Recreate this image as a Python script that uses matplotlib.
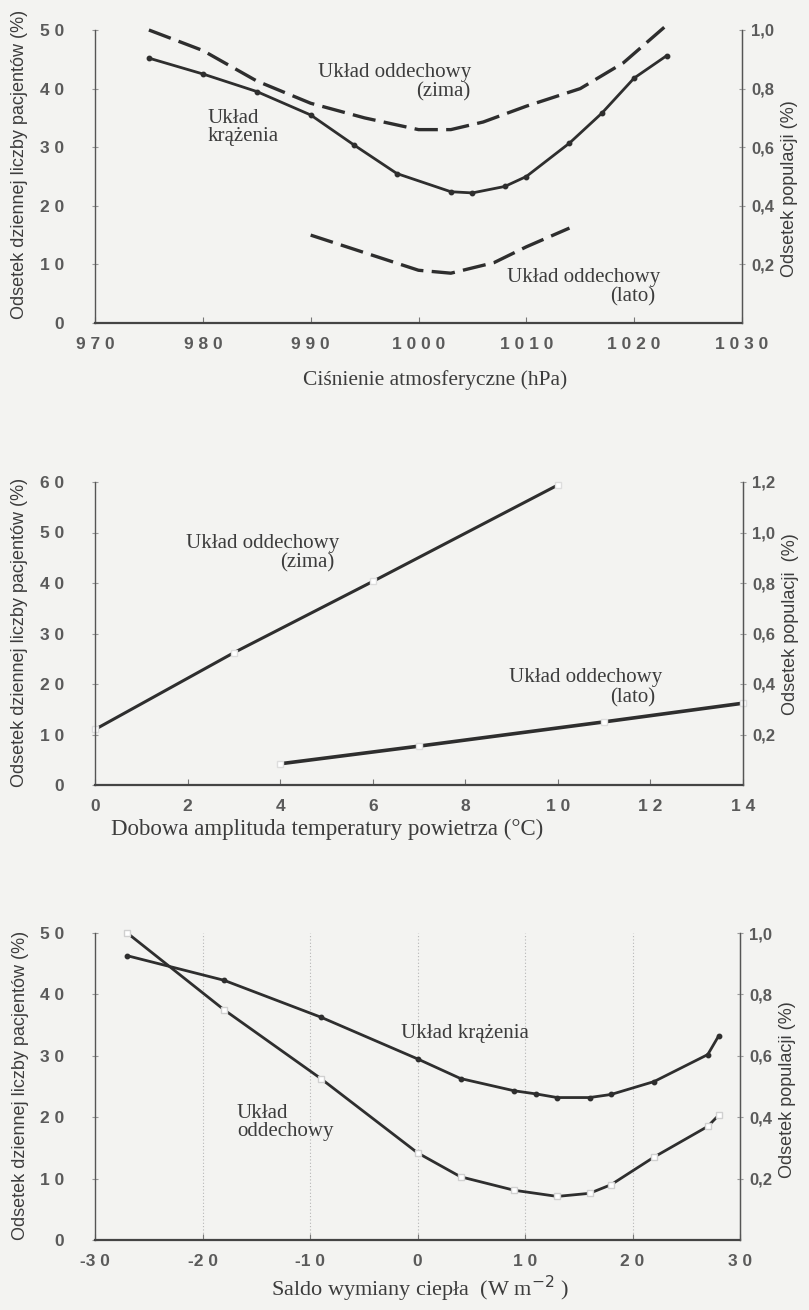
import numpy as np
import matplotlib
matplotlib.use('Agg')
import matplotlib.pyplot as plt

# panel 1: pressure
p_x_krazenia = [975, 980, 985, 990, 994, 998, 1003, 1005, 1008, 1010, 1014, 1017, 1020, 1023]
p_y_krazenia = [45.2, 42.5, 39.5, 35.5, 30.4, 25.5, 22.4, 22.2, 23.3, 25.0, 30.7, 35.8, 41.8, 45.6]
p_x_zima = [975, 980, 985, 990, 995, 1000, 1003, 1006, 1010, 1015, 1019, 1023]
p_y_zima = [50.0, 46.5, 41.3, 37.5, 35.0, 33.0, 33.0, 34.3, 37.0, 40.0, 44.4, 50.8]
p_x_lato = [990, 995, 1000, 1003, 1007, 1010, 1014]
p_y_lato = [15.0, 12.0, 9.0, 8.5, 10.3, 13.0, 16.2]

# panel 2: daily temperature amplitude
t_x_zima = [0, 3, 6, 10]
t_y_zima = [11.0, 26.2, 40.3, 59.4]
t_x_lato = [4, 7, 11, 14]
t_y_lato = [4.2, 7.7, 12.5, 16.2]

# panel 3: heat exchange balance
h_x_krazenia = [-27, -18, -9, 0, 4, 9, 11, 13, 16, 18, 22, 27, 28]
h_y_krazenia = [46.3, 42.3, 36.3, 29.5, 26.3, 24.3, 23.8, 23.2, 23.2, 23.7, 25.8, 30.2, 33.2]
h_x_oddech = [-27, -18, -9, 0, 4, 9, 13, 16, 18, 22, 27, 28]
h_y_oddech = [50.0, 37.5, 26.3, 14.2, 10.3, 8.1, 7.1, 7.6, 9.0, 13.5, 18.5, 20.3]

ylabel_left = 'Odsetek dziennej liczby pacjentów (%)'
ylabel_right = 'Odsetek populacji (%)'

bg = '#f3f3f1'
ink = '#2e2e2e'
txt = '#3c3c3c'
serif = ['Liberation Serif', 'DejaVu Serif']
sans = ['Liberation Sans', 'DejaVu Sans']
ann = 15


def spaced(v):
    s = str(abs(int(v)))
    out = ' '.join(s)
    return ('-' if v < 0 else '') + out


def setup(ax, xlim, xticks, ymax, rmax, rticks):
    ax.set_facecolor(bg)
    ax.set_xlim(*xlim)
    ax.set_ylim(0, ymax)
    ax.spines['top'].set_visible(False)
    for s in ['left', 'right']:
        ax.spines[s].set_color('#555555')
        ax.spines[s].set_linewidth(1.0)
    ax.spines['bottom'].set_color('#444444')
    ax.spines['bottom'].set_linewidth(1.6)
    ax.set_xticks(xticks)
    ax.set_xticklabels([spaced(v) for v in xticks], family=sans, fontsize=12.5,
                       color='#5a5a5a', fontweight='bold')
    yt = list(range(0, ymax + 1, 10))
    ax.set_yticks(yt)
    ax.set_yticklabels([spaced(v) for v in yt], family=sans, fontsize=12.5,
                       color='#5a5a5a', fontweight='bold')
    ax.tick_params(axis='x', direction='in', length=4, color='#777777', pad=10)
    ax.tick_params(axis='y', direction='inout', length=5, color='#999999', pad=20)
    ax.set_ylabel(ylabel_left, family=sans, fontsize=13, color=txt)
    ax2 = ax.twinx()
    ax2.set_ylim(0, rmax)
    ax2.set_yticks(rticks)
    ax2.set_yticklabels([('%.1f' % v).replace('.', ',') for v in rticks], family=sans,
                        fontsize=12, color='#5a5a5a', fontweight='bold')
    ax2.tick_params(axis='y', direction='inout', length=5, color='#999999', pad=4)
    for s in ['top', 'left', 'bottom']:
        ax2.spines[s].set_visible(False)
    ax2.spines['right'].set_color('#555555')
    return ax2


fig = plt.figure(figsize=(8.09, 13.10), dpi=100)
fig.patch.set_facecolor(bg)

W = 809.0
H = 1310.0

# ---------- panel 1 ----------
ax1 = fig.add_axes([95 / W, 1 - 323 / H, 647 / W, 293 / H])
r1 = setup(ax1, (970, 1030), list(range(970, 1031, 10)), 50, 1.0, [0.2, 0.4, 0.6, 0.8, 1.0])
ax1.plot(p_x_krazenia, p_y_krazenia, color=ink, lw=2.0, marker='o', ms=3.2, clip_on=False)
ax1.plot(p_x_zima, p_y_zima, color=ink, lw=2.4, dashes=(7, 2.5), clip_on=False)
ax1.plot(p_x_lato, p_y_lato, color=ink, lw=2.4, dashes=(7, 2.5), clip_on=False)
ax1.text(997.8, 42.8, 'Układ oddechowy', family=serif, fontsize=ann, color=txt, ha='center', va='center')
ax1.text(1004.8, 39.4, '(zima)', family=serif, fontsize=ann, color=txt, ha='right', va='center')
ax1.text(980.4, 33.4, 'Układ\nkrążenia', family=serif, fontsize=ann, color=txt, ha='left', va='center',
         linespacing=0.95)
ax1.text(1015.3, 7.8, 'Układ oddechowy', family=serif, fontsize=ann, color=txt, ha='center', va='center')
ax1.text(1022, 4.4, '(lato)', family=serif, fontsize=ann, color=txt, ha='right', va='center')
ax1.set_xlabel('Ciśnienie atmosferyczne (hPa)', family=serif, fontsize=15.5, color=txt)
ax1.xaxis.set_label_coords(0.525, -0.16)
ax1.yaxis.set_label_coords(-0.103, 0.54)
r1.set_ylabel(ylabel_right, family=sans, fontsize=13, color=txt)
r1.yaxis.set_label_coords(1.06, 0.46)

# ---------- panel 2 ----------
ax2 = fig.add_axes([95 / W, 1 - 785 / H, 648 / W, 303 / H])
r2 = setup(ax2, (0, 14), list(range(0, 15, 2)), 60, 1.2, [0.2, 0.4, 0.6, 0.8, 1.0, 1.2])
ax2.plot(t_x_zima, t_y_zima, color=ink, lw=2.2, marker='s', ms=4, mfc='white', mec='#dddddd',
         clip_on=False)
ax2.plot(t_x_lato, t_y_lato, color=ink, lw=2.6, marker='s', ms=4, mfc='white', mec='#dddddd',
         clip_on=False)
ax2.text(3.63, 47.9, 'Układ oddechowy', family=serif, fontsize=ann, color=txt, ha='center', va='center')
ax2.text(5.18, 44.0, '(zima)', family=serif, fontsize=ann, color=txt, ha='right', va='center')
ax2.text(10.6, 21.2, 'Układ oddechowy', family=serif, fontsize=ann, color=txt, ha='center', va='center')
ax2.text(12.1, 17.2, '(lato)', family=serif, fontsize=ann, color=txt, ha='right', va='center')
ax2.set_xlabel('Dobowa amplituda temperatury powietrza (°C)', family=serif, fontsize=16.5, color=txt)
ax2.xaxis.set_label_coords(0.358, -0.11)
ax2.yaxis.set_label_coords(-0.103, 0.505)
r2.set_ylabel('Odsetek populacji  (%)', family=sans, fontsize=13, color=txt)
r2.yaxis.set_label_coords(1.06, 0.53)

# ---------- panel 3 ----------
ax3 = fig.add_axes([95 / W, 1 - 1240 / H, 645 / W, 307 / H])
r3 = setup(ax3, (-30, 30), list(range(-30, 31, 10)), 50, 1.0, [0.2, 0.4, 0.6, 0.8, 1.0])
for gx in [-20, -10, 0, 10, 20]:
    ax3.axvline(gx, color='#b5b5b5', lw=0.8, ls=(0, (1, 2)), zorder=0)
ax3.plot(h_x_krazenia, h_y_krazenia, color=ink, lw=2.0, marker='o', ms=3.2, clip_on=False)
ax3.plot(h_x_oddech, h_y_oddech, color=ink, lw=2.0, marker='s', ms=4.5, mfc='white', mec='#d0d0d0',
         clip_on=False)
ax3.text(-1.53, 33.7, 'Układ krążenia', family=serif, fontsize=ann, color=txt, ha='left', va='center')
ax3.text(-16.8, 19.1, 'Układ\noddechowy', family=serif, fontsize=ann, color=txt, ha='left', va='center',
         linespacing=0.95)
ax3.set_xlabel('Saldo wymiany ciepła  (W m$^{-2}$ )', family=serif, fontsize=16, color=txt)
ax3.xaxis.set_label_coords(0.504, -0.11)
ax3.yaxis.set_label_coords(-0.103, 0.505)
r3.set_ylabel(ylabel_right, family=sans, fontsize=13, color=txt)
r3.yaxis.set_label_coords(1.06, 0.49)

fig.savefig('out.png', dpi=100, facecolor=bg)
